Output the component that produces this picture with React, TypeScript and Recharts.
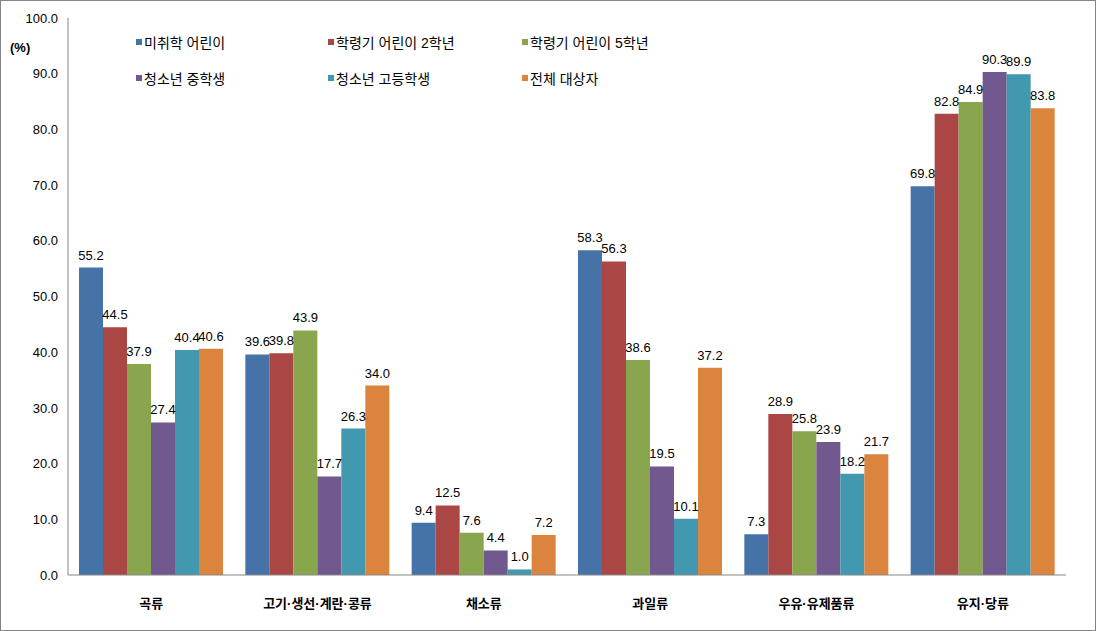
import { BarChart, Bar, XAxis, YAxis, LabelList } from "recharts";

const categories = ["곡류", "고기·생선·계란·콩류", "채소류", "과일류", "우유·유제품류", "유지·당류"];
const preschool = [55.2, 39.6, 9.4, 58.3, 7.3, 69.8];
const grade2 = [44.5, 39.8, 12.5, 56.3, 28.9, 82.8];
const grade5 = [37.9, 43.9, 7.6, 38.6, 25.8, 84.9];
const middle = [27.4, 17.7, 4.4, 19.5, 23.9, 90.3];
const high = [40.4, 26.3, 1.0, 10.1, 18.2, 89.9];
const total = [40.6, 34.0, 7.2, 37.2, 21.7, 83.8];
const yTicks = [0, 10, 20, 30, 40, 50, 60, 70, 80, 90, 100];

const series = [
  { key: "preschool", name: "미취학 어린이", values: preschool, color: "#4572A7" },
  { key: "grade2", name: "학령기 어린이 2학년", values: grade2, color: "#AA4643" },
  { key: "grade5", name: "학령기 어린이 5학년", values: grade5, color: "#89A54E" },
  { key: "middle", name: "청소년 중학생", values: middle, color: "#71588F" },
  { key: "high", name: "청소년 고등학생", values: high, color: "#4198AF" },
  { key: "total", name: "전체 대상자", values: total, color: "#DB843D" },
];

const data = categories.map((c, i) => {
  const row: Record<string, string | number> = { name: c };
  series.forEach((s) => (row[s.key] = s.values[i]));
  return row;
});

const font = '"Liberation Sans", "Noto Sans CJK KR", sans-serif';

function CategoryTick({ x, y, payload }: any) {
  return (
    <text x={x} y={y + 25} textAnchor="middle" fontSize={13} fontWeight="bold" fill="#000" fontFamily={font}>
      {payload.value}
    </text>
  );
}

// legend drawn as an overlay so it doesn't shrink the plot area
function LegendBox() {
  return (
    <div
      style={{
        position: "absolute",
        left: 136,
        top: 32,
        display: "grid",
        gridTemplateColumns: "192px 194px 200px",
        rowGap: 17,
        fontFamily: font,
        fontSize: 14,
      }}
    >
      {series.map((s) => (
        <div key={s.key} style={{ display: "flex", alignItems: "center", height: 19, color: "#000" }}>
          <span style={{ width: 6, height: 6, background: s.color, marginRight: 2, display: "inline-block" }} />
          {s.name}
        </div>
      ))}
    </div>
  );
}

export default function App() {
  return (
    <div style={{ position: "absolute", left: 0, top: 0, width: 1096, height: 631 }}>
      <div style={{ position: "absolute", inset: 0, border: "1px solid #868686", boxSizing: "border-box" }} />
      <div style={{ position: "absolute", left: 10, top: 40, fontFamily: font, fontSize: 13, fontWeight: "bold" }}>(%)</div>
      <BarChart
        width={1096}
        height={631}
        data={data}
        margin={{ top: 18, right: 30, left: 0, bottom: 0 }}
        barCategoryGap={11}
        barGap={0}
      >
        <XAxis
          dataKey="name"
          height={56}
          tickLine={false}
          axisLine={{ stroke: "#868686" }}
          tick={<CategoryTick />}
          interval={0}
        />
        <YAxis
          width={68}
          domain={[0, 100]}
          ticks={yTicks}
          tickLine={false}
          axisLine={{ stroke: "#868686" }}
          tickFormatter={(v: number) => v.toFixed(1)}
          tick={{ fontSize: 13, fill: "#000", fontFamily: font }}
          tickMargin={4}
        />
        {series.map((s) => (
          <Bar key={s.key} dataKey={s.key} name={s.name} fill={s.color} isAnimationActive={false}>
            <LabelList
              dataKey={s.key}
              position="top"
              offset={8}
              formatter={(v: any) => Number(v).toFixed(1)}
              style={{ fontSize: 13, fill: "#000", fontFamily: font }}
            />
          </Bar>
        ))}
      </BarChart>
      <LegendBox />
    </div>
  );
}
